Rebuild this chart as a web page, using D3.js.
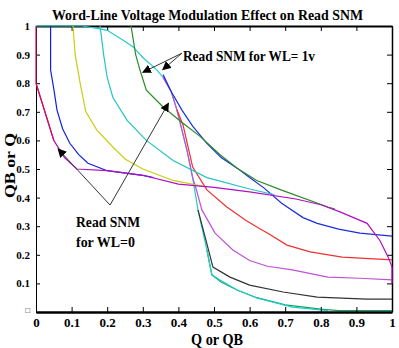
<!DOCTYPE html>
<html>
<head>
<meta charset="utf-8">
<script src="https://cdn.jsdelivr.net/npm/d3@7"></script>
<style>
  body { margin: 0; background: #fff; }
  text { font-family: "Liberation Serif", "Times New Roman", serif; font-weight: bold; }
</style>
</head>
<body>
<div id="graphs"></div>
<script>
// tick values and labels
const xTicks = [0, 0.1, 0.2, 0.3, 0.4, 0.5, 0.6, 0.7, 0.8, 0.9, 1];
const xTickLabels = ['0', '0.1', '0.2', '0.3', '0.4', '0.5', '0.6', '0.7', '0.8', '0.9', '1'];
const yTicks = [0, 0.1, 0.2, 0.3, 0.4, 0.5, 0.6, 0.7, 0.8, 0.9, 1];
const yTickLabels = ['\u25A1', '0.1', '0.2', '0.3', '0.4', '0.5', '0.6', '0.7', '0.8', '0.9', '1'];

// curves, [Q, QB]
const greenLower = [[0.48,0.217],[0.494,0.13],[0.52,0.105],[0.565,0.077],[0.62,0.05],[0.7,0.025],[0.8,0.01],[0.85,0.005],[1,0.005]];
const cyanOuter = [[0,1],[0.13,1],[0.18,0.99],[0.2,0.985],[0.245,0.95],[0.273,0.927],[0.3,0.89],[0.34,0.846],[0.357,0.82],[0.38,0.77],[0.396,0.706],[0.424,0.566],[0.44,0.47],[0.455,0.357],[0.48,0.217],[0.494,0.13],[0.517,0.112],[0.565,0.077],[0.62,0.049],[0.72,0.017],[0.82,0.005]];
const black = [[0.455,0.357],[0.483,0.224],[0.497,0.157],[0.545,0.122],[0.6,0.094],[0.694,0.07],[0.79,0.052],[0.93,0.045],[1,0.045]];
const violet = [[0.357,0.82],[0.38,0.77],[0.396,0.706],[0.424,0.566],[0.44,0.47],[0.45,0.43],[0.466,0.357],[0.503,0.276],[0.553,0.217],[0.6,0.18],[0.65,0.16],[0.72,0.147],[0.82,0.122],[0.91,0.118],[1,0.112]];
const red = [[0.396,0.706],[0.413,0.654],[0.44,0.507],[0.48,0.427],[0.536,0.367],[0.59,0.32],[0.63,0.29],[0.65,0.276],[0.705,0.234],[0.77,0.21],[0.86,0.192],[1,0.182]];
const blueRight = [[0.357,0.83],[0.38,0.77],[0.41,0.706],[0.44,0.65],[0.48,0.59],[0.52,0.54],[0.565,0.503],[0.6,0.47],[0.64,0.434],[0.69,0.38],[0.75,0.33],[0.79,0.31],[0.85,0.29],[0.91,0.276],[1,0.265]];
const greenUpper = [[0.267,1],[0.28,0.9],[0.292,0.846],[0.31,0.776],[0.357,0.717],[0.413,0.66],[0.46,0.615],[0.517,0.55],[0.565,0.503],[0.62,0.46],[0.69,0.426],[0.82,0.367],[0.84,0.36]];
const cyanInner = [[0.18,1],[0.19,0.9],[0.2,0.82],[0.216,0.75],[0.256,0.67],[0.31,0.6],[0.385,0.53],[0.48,0.47],[0.6,0.43],[0.67,0.41]];
const yellow = [[0.104,1],[0.11,0.9],[0.124,0.8],[0.14,0.7],[0.171,0.636],[0.216,0.577],[0.25,0.535],[0.3,0.5],[0.385,0.46],[0.48,0.437]];
const blueLeft = [[0.041,1],[0.041,0.846],[0.05,0.78],[0.059,0.706],[0.075,0.64],[0.095,0.59],[0.12,0.55],[0.146,0.52],[0.2,0.494],[0.3,0.478],[0.33,0.47]];
const magenta = [[0,0.8],[0.025,0.7],[0.05,0.6],[0.08,0.54],[0.115,0.5],[0.2,0.494],[0.3,0.478],[0.4,0.447],[0.5,0.436],[0.6,0.42],[0.73,0.395],[0.8,0.375],[0.854,0.35],[0.93,0.31],[0.966,0.25],[0.99,0.19],[1,0.157],[1,0.1]];
const crimson = [[0,1],[0,0.8],[0.015,0.74],[0.03,0.68],[0.05,0.6]];

const curves = [
  {pts: greenLower, color: '#12a060'},
  {pts: cyanOuter, color: '#22cccc'},
  {pts: black, color: '#333333'},
  {pts: violet, color: '#c050d8'},
  {pts: red, color: '#f03030'},
  {pts: blueRight, color: '#1a2ee0'},
  {pts: greenUpper, color: '#2a8a2a'},
  {pts: cyanInner, color: '#22c4c4'},
  {pts: yellow, color: '#cccc10'},
  {pts: blueLeft, color: '#1020e0'},
  {pts: magenta, color: '#b010c0'},
  {pts: crimson, color: '#d8104a'}
];

const width = 399;
const height = 348;
const margin = {top: 26, bottom: 36, left: 36, right: 7};

const svg = d3.select('#graphs')
  .append('svg')
  .attr('width', width)
  .attr('height', height)
  .attr('viewBox', [0, 0, width, height]);

const x = d3.scaleLinear()
  .domain([0, 1])
  .range([margin.left, width - margin.right]);

const y = d3.scaleLinear()
  .domain([0, 1])
  .range([height - margin.bottom, margin.top]);

// frame: top + right, ticks inward
svg.append('g')
  .attr('transform', `translate(0,${y(1)})`)
  .call(d3.axisTop(x).tickValues(xTicks).tickSizeInner(-5).tickSizeOuter(0).tickFormat(''))
  .call(g => g.select('.domain').attr('stroke-width', 2));

svg.append('g')
  .attr('transform', `translate(${x(1)},0)`)
  .call(d3.axisRight(y).tickValues(yTicks).tickSizeInner(-5).tickSizeOuter(0).tickFormat(''))
  .call(g => g.select('.domain').attr('stroke-width', 1.5));

function xAxis(g) {
  g.attr('transform', `translate(0,${y(0)})`)
    .call(d3.axisBottom(x).tickValues(xTicks).tickSizeInner(-5).tickSizeOuter(0).tickPadding(6)
      .tickFormat((d, i) => xTickLabels[i]))
    .attr('font-size', '13px')
    .attr('font-family', null);
  g.select('.domain').attr('stroke-width', 2.5);
}

function yAxis(g) {
  g.attr('transform', `translate(${x(0)},0)`)
    .call(d3.axisLeft(y).tickValues(yTicks).tickSizeInner(-4).tickSizeOuter(0).tickPadding(6)
      .tickFormat((d, i) => yTickLabels[i]))
    .attr('font-size', '11px')
    .attr('font-family', null);
  g.selectAll('.tick text').filter((d, i) => i === 0)
    .attr('font-size', '8px').attr('font-family', 'DejaVu Sans').attr('dy', '0.1em');
}

svg.append('g').call(yAxis);

const line = d3.line()
  .x(d => x(d[0]))
  .y(d => y(d[1]));

svg.append('g')
  .attr('fill', 'none')
  .attr('stroke-width', 1.2)
  .selectAll('path')
  .data(curves)
  .join('path')
  .attr('stroke', d => d.color)
  .attr('d', d => line(d.pts));

svg.append('g').call(xAxis);

// annotations
svg.append('defs').append('marker')
  .attr('id', 'head')
  .attr('viewBox', '0 0 10 10')
  .attr('refX', 9).attr('refY', 5)
  .attr('markerWidth', 9).attr('markerHeight', 9)
  .attr('markerUnits', 'userSpaceOnUse')
  .attr('orient', 'auto')
  .append('path').attr('d', 'M0,0L10,5L0,10Z').attr('fill', '#000');

const arrows = [
  [[x(0.208), y(0.374)], [x(0.062), y(0.57)]],
  [[x(0.208), y(0.374)], [x(0.372), y(0.73)]],
  [[x(0.41), y(0.905)], [x(0.30), y(0.838)]],
  [[x(0.41), y(0.905)], [x(0.356), y(0.847)]]
];
svg.append('g')
  .selectAll('line')
  .data(arrows)
  .join('line')
  .attr('x1', d => d[0][0]).attr('y1', d => d[0][1])
  .attr('x2', d => d[1][0]).attr('y2', d => d[1][1])
  .attr('stroke', '#333').attr('stroke-width', 1)
  .attr('marker-end', 'url(#head)');

svg.append('text')
  .attr('x', 183).attr('y', 61)
  .attr('font-size', 15)
  .attr('textLength', 132).attr('lengthAdjust', 'spacingAndGlyphs')
  .text('Read SNM for WL= 1v');

svg.append('text')
  .attr('x', 76).attr('y', 227)
  .attr('font-size', 15)
  .attr('textLength', 64).attr('lengthAdjust', 'spacingAndGlyphs')
  .text('Read SNM');

svg.append('text')
  .attr('x', 76).attr('y', 247)
  .attr('font-size', 15)
  .attr('textLength', 59).attr('lengthAdjust', 'spacingAndGlyphs')
  .text('for WL=0');

svg.append('text')
  .attr('x', 52).attr('y', 20)
  .attr('font-size', 15)
  .attr('textLength', 311).attr('lengthAdjust', 'spacingAndGlyphs')
  .text('Word-Line Voltage Modulation Effect on Read SNM');

svg.append('text')
  .attr('x', 191).attr('y', 345)
  .attr('font-size', 17)
  .attr('textLength', 52).attr('lengthAdjust', 'spacingAndGlyphs')
  .text('Q or QB');

svg.append('text')
  .attr('transform', 'translate(15,198) rotate(-90)')
  .attr('font-size', 15)
  .attr('textLength', 65).attr('lengthAdjust', 'spacingAndGlyphs')
  .text('QB or Q');
</script>
</body>
</html>
